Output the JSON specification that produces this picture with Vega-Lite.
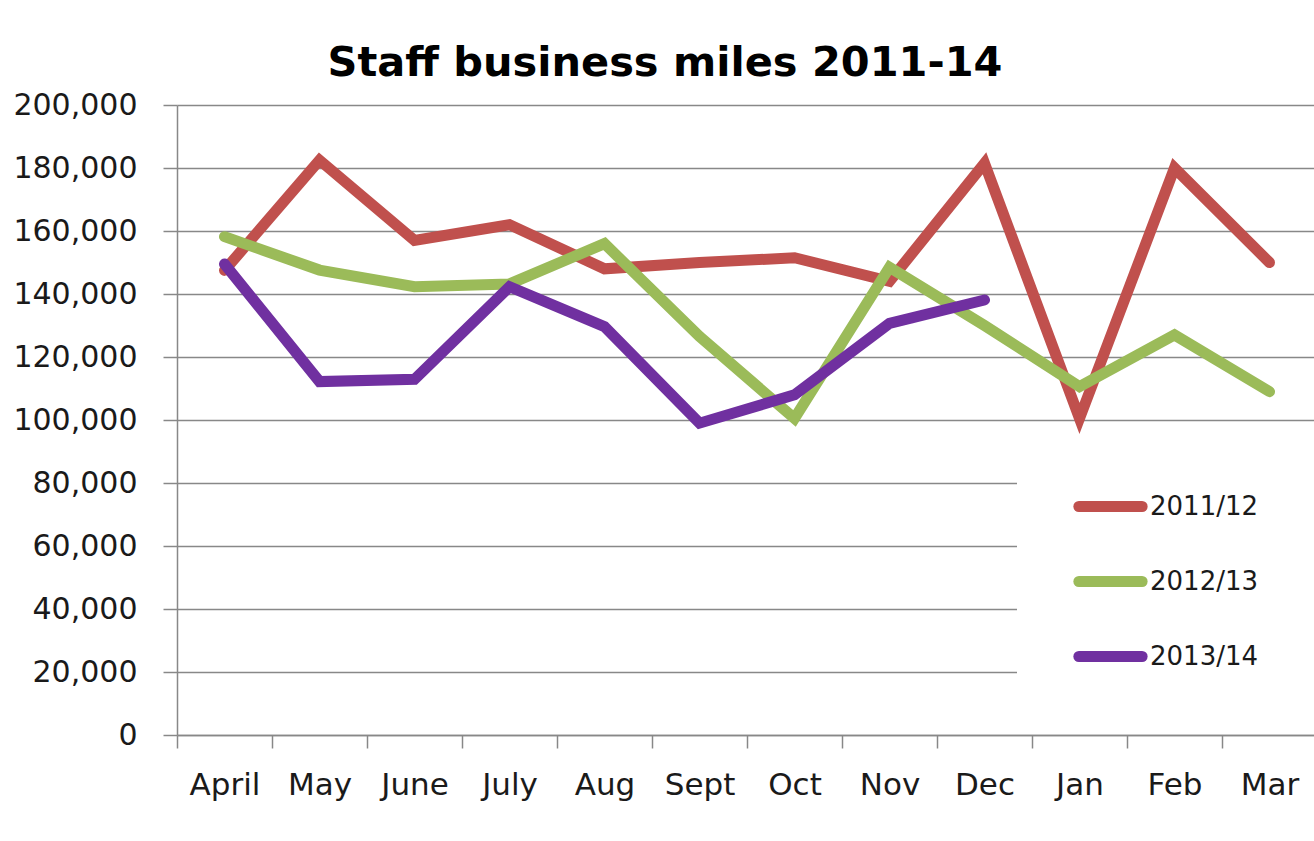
{
  "$schema": "https://vega.github.io/schema/vega-lite/v6.json",
  "width": 1140,
  "height": 630,
  "autosize": {"type": "none"},
  "padding": {"left": 177, "top": 105, "right": 0, "bottom": 106},
  "background": "white",
  "title": {
    "text": "Staff business miles 2011-14",
    "font": "DejaVu Sans",
    "fontWeight": "bold",
    "fontSize": 41.5,
    "color": "black",
    "anchor": "middle",
    "frame": "bounds",
    "baseline": "alphabetic",
    "offset": -27,
    "dx": -14
  },
  "config": {"view": {"stroke": null}},
  "data": {
    "values": [
      {"month": "April", "series": "2011/12", "miles": 147500},
      {"month": "May", "series": "2011/12", "miles": 182500},
      {"month": "June", "series": "2011/12", "miles": 157000},
      {"month": "July", "series": "2011/12", "miles": 162000},
      {"month": "Aug", "series": "2011/12", "miles": 148000},
      {"month": "Sept", "series": "2011/12", "miles": 150000},
      {"month": "Oct", "series": "2011/12", "miles": 151500},
      {"month": "Nov", "series": "2011/12", "miles": 144000},
      {"month": "Dec", "series": "2011/12", "miles": 181500},
      {"month": "Jan", "series": "2011/12", "miles": 100500},
      {"month": "Feb", "series": "2011/12", "miles": 180000},
      {"month": "Mar", "series": "2011/12", "miles": 150000},
      {"month": "April", "series": "2012/13", "miles": 158200},
      {"month": "May", "series": "2012/13", "miles": 147600},
      {"month": "June", "series": "2012/13", "miles": 142300},
      {"month": "July", "series": "2012/13", "miles": 143200},
      {"month": "Aug", "series": "2012/13", "miles": 156000},
      {"month": "Sept", "series": "2012/13", "miles": 126500},
      {"month": "Oct", "series": "2012/13", "miles": 100500},
      {"month": "Nov", "series": "2012/13", "miles": 148500},
      {"month": "Dec", "series": "2012/13", "miles": 130000},
      {"month": "Jan", "series": "2012/13", "miles": 110600},
      {"month": "Feb", "series": "2012/13", "miles": 127000},
      {"month": "Mar", "series": "2012/13", "miles": 109000},
      {"month": "April", "series": "2013/14", "miles": 149500},
      {"month": "May", "series": "2013/14", "miles": 112200},
      {"month": "June", "series": "2013/14", "miles": 112900},
      {"month": "July", "series": "2013/14", "miles": 142300},
      {"month": "Aug", "series": "2013/14", "miles": 129600},
      {"month": "Sept", "series": "2013/14", "miles": 99000},
      {"month": "Oct", "series": "2013/14", "miles": 108000},
      {"month": "Nov", "series": "2013/14", "miles": 130700},
      {"month": "Dec", "series": "2013/14", "miles": 138100}
    ]
  },
  "mark": {"type": "line", "strokeWidth": 11, "strokeCap": "round", "strokeJoin": "miter"},
  "encoding": {
    "x": {
      "field": "month",
      "type": "ordinal",
      "bandPosition": 0.5,
      "sort": ["April", "May", "June", "July", "Aug", "Sept", "Oct", "Nov", "Dec", "Jan", "Feb", "Mar"],
      "scale": {"type": "band", "paddingInner": 0, "paddingOuter": 0},
      "axis": {
        "title": null,
        "labelAngle": 0,
        "tickBand": "extent",
        "grid": false,
        "domainColor": "#888888",
        "domainWidth": 1.5,
        "tickColor": "#888888",
        "tickWidth": 1.5,
        "tickSize": 13,
        "labelFont": "DejaVu Sans",
        "labelFontSize": 31,
        "labelColor": "#1a1a1a",
        "labelPadding": 22
      }
    },
    "y": {
      "field": "miles",
      "type": "quantitative",
      "scale": {"domain": [0, 200000], "nice": false},
      "axis": {
        "title": null,
        "values": [0, 20000, 40000, 60000, 80000, 100000, 120000, 140000, 160000, 180000, 200000],
        "format": ",d",
        "grid": true,
        "gridColor": "#888888",
        "gridWidth": 1.5,
        "domainColor": "#888888",
        "domainWidth": 1.5,
        "tickColor": "#888888",
        "tickWidth": 1.5,
        "tickSize": 14,
        "labelFont": "DejaVu Sans",
        "labelFontSize": 30,
        "labelColor": "#1a1a1a",
        "labelPadding": 26
      }
    },
    "color": {
      "field": "series",
      "type": "nominal",
      "scale": {"domain": ["2011/12", "2012/13", "2013/14"], "range": ["#C0504D", "#9BBB59", "#7030A0"]},
      "legend": {
        "title": null,
        "orient": "none",
        "legendX": 840,
        "legendY": 335,
        "symbolType": "stroke",
        "symbolStrokeWidth": 11,
        "symbolSize": 4000,
        "symbolOffset": 27,
        "labelFont": "DejaVu Sans",
        "labelFontSize": 26,
        "labelColor": "#1a1a1a",
        "labelOffset": 2,
        "labelLimit": 300,
        "labelExpr": "datum.label + '\u2800\u2800\u2800'",
        "padding": 29,
        "fillColor": "white",
        "rowPadding": 15,
        "encode": {"symbols": {"update": {"strokeCap": {"value": "round"}}}}
      }
    }
  }
}
